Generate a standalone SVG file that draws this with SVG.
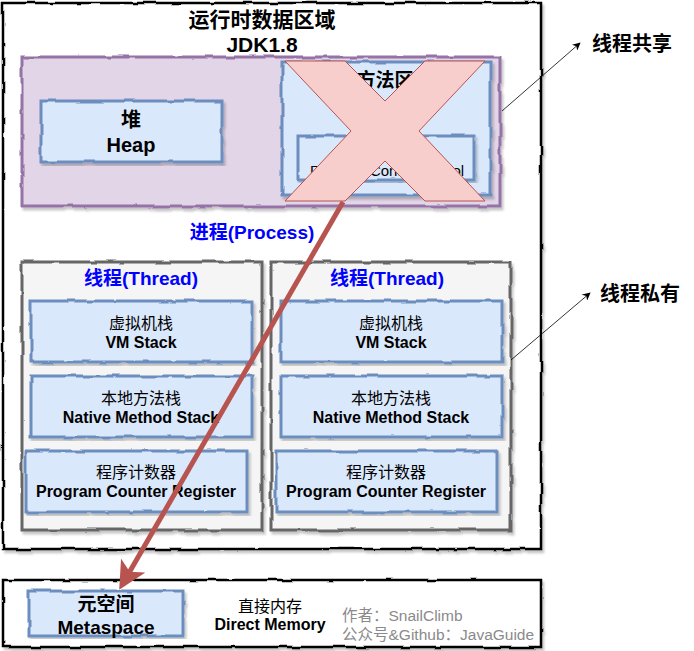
<svg xmlns="http://www.w3.org/2000/svg" width="694" height="651" viewBox="0 0 694 651">
<defs>
<filter id="sk" x="-5%" y="-5%" width="110%" height="110%">
<feTurbulence type="fractalNoise" baseFrequency="0.05" numOctaves="2" seed="4" result="n"/>
<feDisplacementMap in="SourceGraphic" in2="n" scale="3.5" xChannelSelector="R" yChannelSelector="G" result="d"/>
<feDropShadow in="d" dx="2" dy="3" stdDeviation="1" flood-color="#000" flood-opacity="0.22"/>
</filter>
<marker id="ah" viewBox="0 0 10 10" refX="9" refY="5" markerWidth="8" markerHeight="8" markerUnits="userSpaceOnUse" orient="auto">
<path d="M0,0 L10,5 L0,10 L3,5 Z" fill="#000"/>
</marker>
<marker id="rh" viewBox="0 0 10 10" refX="8" refY="5" markerWidth="5.6" markerHeight="5.6" orient="auto">
<path d="M0,0 L10,5 L0,10 L2.5,5 Z" fill="#b85450"/>
</marker>
</defs>
<style>
text{font-family:"Liberation Sans","Noto Sans CJK SC",sans-serif;text-anchor:middle;fill:#000}
.b{font-weight:bold}
.blue{fill:#0000ff;font-weight:bold;font-size:19px}
.outer{fill:#fff;stroke:#000;stroke-width:2.5}
.purple{fill:#e1d5e7;stroke:#9673a6;stroke-width:3}
.blu{fill:#dae8fc;stroke:#6c8ebf;stroke-width:3}
.gray{fill:#f5f5f5;stroke:#666;stroke-width:3}
.cn{font-size:16px}
.en{font-size:16px;font-weight:bold}
.note{font-size:15.5px;fill:#8a8a8a;text-anchor:start}
.lbl{font-size:20px;font-weight:bold;text-anchor:start}
</style>

<g id="runtime-area">
<rect class="outer" x="3" y="3" width="538" height="546" filter="url(#sk)"/>
<text class="b" x="262" y="27" font-size="21">运行时数据区域</text>
<text class="b" x="262" y="52" font-size="21">JDK1.8</text>
</g>

<g id="shared">
<rect class="purple" x="22" y="57" width="478" height="149" filter="url(#sk)"/>
</g>

<g id="heap">
<rect class="blu" x="41" y="101" width="181" height="61" filter="url(#sk)"/>
<text class="b" x="131" y="127" font-size="20">堆</text>
<text class="b" x="131" y="152" font-size="20">Heap</text>
</g>

<g id="method-area">
<rect class="blu" x="282" y="62" width="208" height="133" filter="url(#sk)"/>
<text class="b" x="385" y="87" font-size="19">方法区</text>
<rect class="blu" x="298" y="136" width="176" height="44" filter="url(#sk)"/>
<text x="387" y="176" font-size="15">Runtime Constant Pool</text>
</g>

<g id="cross">
<polygon points="285,61 345,61 385,101 425,61 485,61 419,131 485,201 425,201 385,161 345,201 285,201 351,131" fill="#f8cecc" stroke="#b85450" stroke-width="1"/>
</g>

<g id="process">
<text class="blue" x="252" y="239">进程(Process)</text>
</g>

<g id="thread1">
<rect class="gray" x="22" y="262" width="240" height="268" filter="url(#sk)"/>
<text class="blue" x="141" y="285">线程(Thread)</text>
</g>
<g id="vm1">
<rect class="blu" x="31" y="301" width="221" height="61" filter="url(#sk)"/>
<text class="cn" x="141" y="329">虚拟机栈</text>
<text class="en" x="141" y="348">VM Stack</text>
</g>
<g id="native1">
<rect class="blu" x="31" y="376" width="221" height="61" filter="url(#sk)"/>
<text class="cn" x="141" y="404">本地方法栈</text>
<text class="en" x="141" y="423">Native Method Stack</text>
</g>
<g id="pc1">
<rect class="blu" x="26" y="451" width="221" height="61" filter="url(#sk)"/>
<text class="cn" x="136" y="478">程序计数器</text>
<text class="en" x="136" y="497">Program Counter Register</text>
</g>

<g id="thread2">
<rect class="gray" x="271" y="262" width="240" height="268" filter="url(#sk)"/>
<text class="blue" x="387" y="285">线程(Thread)</text>
</g>
<g id="vm2">
<rect class="blu" x="281" y="301" width="221" height="61" filter="url(#sk)"/>
<text class="cn" x="391" y="329">虚拟机栈</text>
<text class="en" x="391" y="348">VM Stack</text>
</g>
<g id="native2">
<rect class="blu" x="281" y="376" width="221" height="61" filter="url(#sk)"/>
<text class="cn" x="391" y="404">本地方法栈</text>
<text class="en" x="391" y="423">Native Method Stack</text>
</g>
<g id="pc2">
<rect class="blu" x="276" y="451" width="221" height="61" filter="url(#sk)"/>
<text class="cn" x="386" y="478">程序计数器</text>
<text class="en" x="386" y="497">Program Counter Register</text>
</g>

<g id="native-memory">
<rect class="outer" x="3" y="580" width="538" height="67" filter="url(#sk)"/>
</g>
<g id="metaspace">
<rect class="blu" x="29" y="591" width="154" height="45" filter="url(#sk)"/>
<text class="b" x="106" y="611" font-size="19">元空间</text>
<text class="b" x="106" y="634" font-size="19">Metaspace</text>
</g>
<g id="direct-memory">
<text class="cn" x="270" y="612">直接内存</text>
<text class="en" x="270" y="630">Direct Memory</text>
</g>
<g id="author">
<text class="note" x="342" y="621">作者：SnailClimb</text>
<text class="note" x="342" y="640">公众号&amp;Github：JavaGuide</text>
</g>

<g id="label-shared">
<text class="lbl" x="592" y="51">线程共享</text>
</g>
<g id="label-private">
<text class="lbl" x="600" y="301">线程私有</text>
</g>

<g id="connectors">
<line x1="502" y1="111" x2="580" y2="43" stroke="#000" stroke-width="0.8" marker-end="url(#ah)"/>
<line x1="511" y1="360" x2="590" y2="293" stroke="#000" stroke-width="0.8" marker-end="url(#ah)"/>
<line x1="343" y1="202" x2="122" y2="585" stroke="#b85450" stroke-width="5" marker-end="url(#rh)"/>
</g>
</svg>
